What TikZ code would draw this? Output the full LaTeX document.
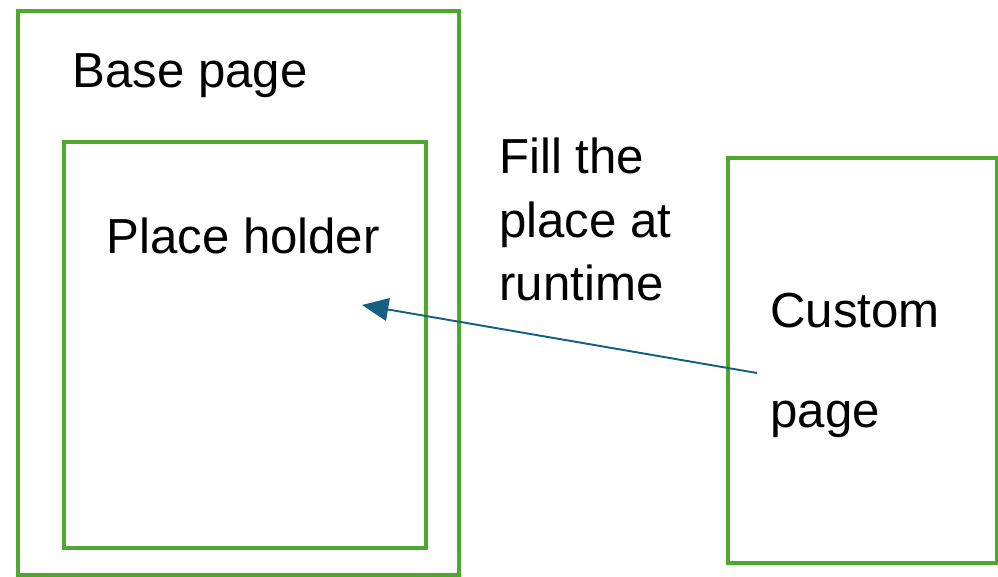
\documentclass[tikz,border=0pt]{standalone}
\usepackage{fontspec}
\setmainfont{Liberation Sans}
\usetikzlibrary{arrows.meta}
\definecolor{pagegreen}{HTML}{4EA72E}
\definecolor{filltide}{HTML}{156082}
\tikzset{
	pagebox/.style={draw=pagegreen,line width=2pt},
	pagetext/.style={anchor=base west,inner sep=0pt,font=\fontsize{28}{33}\selectfont},
	fillarrow/.style={draw=filltide,line width=1.1pt,-{Triangle[length=15pt,width=13pt]}}
}
\begin{document}
\begin{tikzpicture}[x=0.02cm,y=-0.02cm]
	\useasboundingbox (0,0) rectangle (998,576);
	% base page with its place holder
	\draw[pagebox] (18,11) rectangle (459,575);
	\node[pagetext] (basetitle) at (72,87) {Base page};
	\draw[pagebox] (64,142) rectangle (426,548);
	\node[pagetext] (holdertitle) at (106,253) {Place holder};
	% custom page
	\draw[pagebox] (728,158) rectangle (997,563);
	\node[pagetext] (customline) at (770,327) {Custom};
	\node[pagetext] (pageline) at (770,427) {page};
	% runtime note
	\node[pagetext] (fillline) at (499,173) {Fill the};
	\node[pagetext] (placeline) at (499,237) {place at};
	\node[pagetext] (runline) at (499,300) {runtime};
	\coordinate (fillfrom) at (757,373);
	\coordinate (fillto) at (362,305);
	\draw[fillarrow] (fillfrom) -- (fillto);
\end{tikzpicture}
\end{document}
